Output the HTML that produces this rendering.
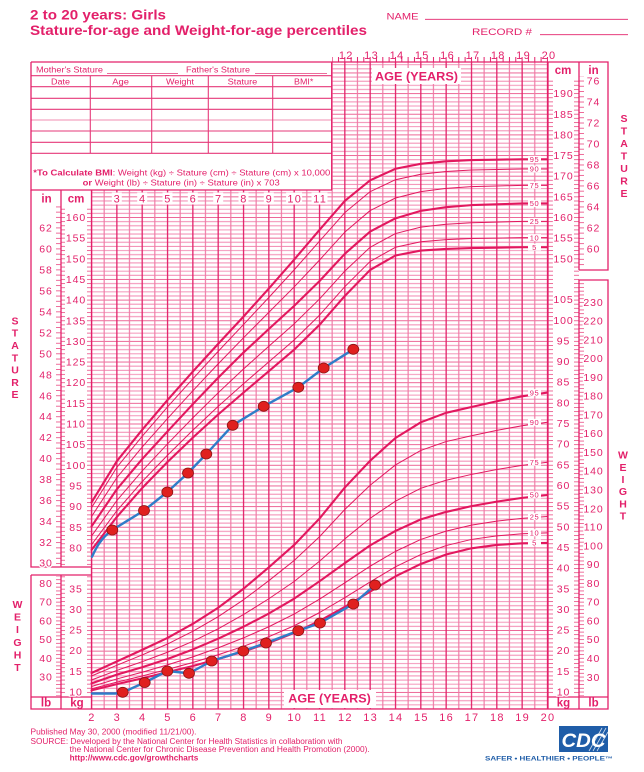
<!DOCTYPE html>
<html><head><meta charset="utf-8"><style>
html,body{margin:0;padding:0;background:#fff;}
svg{display:block;font-family:"Liberation Sans",Arial,sans-serif;}
.t{fill:#e3206a;}
.ax{fill:#e3206a;font-size:10.5px;letter-spacing:0.9px;text-anchor:middle;stroke:#fff;stroke-width:2.6px;paint-order:stroke;}
.ag{fill:#e3206a;font-size:11px;letter-spacing:1.3px;text-anchor:middle;}
.pl{fill:#e3206a;font-size:7.5px;letter-spacing:0.6px;text-anchor:middle;}
.vl{fill:#e3206a;font-size:10.5px;font-weight:bold;text-anchor:middle;}
</style></head><body>
<svg width="644" height="772" viewBox="0 0 644 772" xmlns="http://www.w3.org/2000/svg">
<defs>
<pattern id="grid" patternUnits="userSpaceOnUse" x="90.9" y="10.5" width="25.33" height="20.65">
  <rect width="25.33" height="20.65" fill="#fff"/>
  <g stroke="#f393b8" stroke-width="1.05">
   <line x1="0" y1="4.63" x2="25.33" y2="4.63"/>
   <line x1="0" y1="8.76" x2="25.33" y2="8.76"/>
   <line x1="0" y1="12.89" x2="25.33" y2="12.89"/>
   <line x1="0" y1="17.02" x2="25.33" y2="17.02"/>
  </g>
  <line x1="0" y1="0.5" x2="25.33" y2="0.5" stroke="#ec6696" stroke-width="1.05"/>
  <line x1="13.27" y1="0" x2="13.27" y2="20.65" stroke="#ef78a4" stroke-width="1.15"/>
  <line x1="0.6" y1="0" x2="0.6" y2="20.65" stroke="#e21f68" stroke-width="1.35"/>
</pattern>
<pattern id="tk1" patternUnits="userSpaceOnUse" x="0" y="2.24" width="644" height="4.13">
  <g stroke="#ec5d90" stroke-width="0.9">
  <line x1="61" y1="0.5" x2="65" y2="0.5"/><line x1="87" y1="0.5" x2="91.5" y2="0.5"/>
  <line x1="548" y1="0.5" x2="553" y2="0.5"/><line x1="574" y1="0.5" x2="579" y2="0.5"/>
  </g>
</pattern>
<pattern id="tin" patternUnits="userSpaceOnUse" x="0" y="1.865" width="644" height="5.245">
  <g stroke="#ec5d90" stroke-width="0.9">
  <line x1="56" y1="0.5" x2="61" y2="0.5"/><line x1="579" y1="0.5" x2="584" y2="0.5"/>
  </g>
</pattern>
<pattern id="tlb" patternUnits="userSpaceOnUse" x="0" y="2.21" width="644" height="3.7466">
  <g stroke="#ec5d90" stroke-width="0.9">
  <line x1="56" y1="0.5" x2="61" y2="0.5"/><line x1="579" y1="0.5" x2="584" y2="0.5"/>
  </g>
</pattern>
<pattern id="ttop" patternUnits="userSpaceOnUse" x="91" y="0" width="6.3325" height="772">
  <line x1="0.5" y1="57" x2="0.5" y2="62" stroke="#e3206a" stroke-width="1"/>
</pattern>
</defs>

<!-- Title -->
<text x="30" y="19.5" class="t" font-size="14" font-weight="bold" textLength="136" lengthAdjust="spacingAndGlyphs">2 to 20 years: Girls</text>
<text x="30" y="35" class="t" font-size="14" font-weight="bold" textLength="337" lengthAdjust="spacingAndGlyphs">Stature-for-age and Weight-for-age percentiles</text>
<text x="386.5" y="19.5" class="t" font-size="9.5" textLength="32" lengthAdjust="spacingAndGlyphs">NAME</text>
<line x1="425" y1="19.3" x2="628" y2="19.3" stroke="#e3206a" stroke-width="0.9"/>
<text x="472" y="35" class="t" font-size="9.5" textLength="60" lengthAdjust="spacingAndGlyphs">RECORD #</text>
<line x1="540" y1="34.7" x2="628" y2="34.7" stroke="#e3206a" stroke-width="0.9"/>

<!-- grids -->
<rect x="91.5" y="190" width="456.5" height="519" fill="url(#grid)"/>
<rect x="332" y="62" width="216" height="128" fill="url(#grid)"/>
<rect x="332" y="56" width="216" height="6" fill="url(#ttop)"/>

<!-- axis tick fills -->
<rect x="61" y="206" width="30.5" height="360" fill="url(#tk1)"/>
<rect x="61" y="576" width="30.5" height="120" fill="url(#tk1)"/>
<rect x="548" y="80" width="31" height="616" fill="url(#tk1)"/>
<rect x="31" y="206" width="30" height="360" fill="url(#tin)"/>
<rect x="579" y="76" width="29" height="193" fill="url(#tin)"/>
<rect x="31" y="576" width="30" height="120" fill="url(#tlb)"/>
<rect x="579" y="281" width="29" height="415" fill="url(#tlb)"/>

<!-- Table -->
<g stroke="#e63a7a" stroke-width="1.1">
<line x1="31" y1="75.7" x2="331.7" y2="75.7"/>
<line x1="31" y1="86.7" x2="331.7" y2="86.7"/>
<line x1="31" y1="98.3" x2="331.7" y2="98.3"/>
<line x1="31" y1="109.3" x2="331.7" y2="109.3"/>
<line x1="31" y1="120" x2="331.7" y2="120" stroke="#f08db2"/>
<line x1="31" y1="131" x2="331.7" y2="131"/>
<line x1="31" y1="142.3" x2="331.7" y2="142.3"/>
<line x1="31" y1="153.3" x2="331.7" y2="153.3"/>
<line x1="90.3" y1="75.7" x2="90.3" y2="153.3"/>
<line x1="151.7" y1="75.7" x2="151.7" y2="153.3"/>
<line x1="208.3" y1="75.7" x2="208.3" y2="153.3"/>
<line x1="272.7" y1="75.7" x2="272.7" y2="153.3"/>
<line x1="107" y1="73.5" x2="178" y2="73.5" stroke-width="0.8"/>
<line x1="255" y1="73.5" x2="327" y2="73.5" stroke-width="0.8"/>
</g>
<text x="36" y="72.5" class="t" font-size="8" textLength="67" lengthAdjust="spacingAndGlyphs">Mother's Stature</text>
<text x="186" y="72.5" class="t" font-size="8" textLength="64" lengthAdjust="spacingAndGlyphs">Father's Stature</text>
<text x="51" y="84.5" class="t" font-size="8" textLength="19" lengthAdjust="spacingAndGlyphs">Date</text>
<text x="112.3" y="84.5" class="t" font-size="8" textLength="16.7" lengthAdjust="spacingAndGlyphs">Age</text>
<text x="166" y="84.5" class="t" font-size="8" textLength="28" lengthAdjust="spacingAndGlyphs">Weight</text>
<text x="227.7" y="84.5" class="t" font-size="8" textLength="29.6" lengthAdjust="spacingAndGlyphs">Stature</text>
<text x="294" y="84.5" class="t" font-size="8" textLength="19.3" lengthAdjust="spacingAndGlyphs">BMI*</text>
<text x="33.3" y="175.3" class="t" font-size="8.3" textLength="297" lengthAdjust="spacingAndGlyphs"><tspan font-weight="bold">*To Calculate BMI</tspan>: Weight (kg) ÷ Stature (cm) ÷ Stature (cm) x 10,000</text>
<text x="82.7" y="185.3" class="t" font-size="8.3" textLength="197" lengthAdjust="spacingAndGlyphs"><tspan font-weight="bold">or</tspan> Weight (lb) ÷ Stature (in) ÷ Stature (in) x 703</text>

<!-- Borders -->
<g stroke="#e3206a" stroke-width="1.3" fill="none">
<path d="M31,62 H608 V270 H579 M579,62 V270"/>
<path d="M31,62 V190 H332 M331.7,62 V190"/>
<path d="M31,190 V567 H91.5 M61,190 V567"/>
<path d="M31,575 V709 H608 V280 H579 V709 M31,575 H91.5 M61,575 V709"/>
<path d="M91.5,190 V709 M548,62 V709"/>
<path d="M31,697 H91.5 M548,697 H608"/>
</g>

<!-- Age label boxes top-left -->
<g fill="#fff">
<rect x="111.8" y="192.5" width="10" height="12"/>
<rect x="137.2" y="192.5" width="10" height="12"/>
<rect x="162.5" y="192.5" width="10" height="12"/>
<rect x="187.8" y="192.5" width="10" height="12"/>
<rect x="213.2" y="192.5" width="10" height="12"/>
<rect x="238.5" y="192.5" width="10" height="12"/>
<rect x="263.8" y="192.5" width="10" height="12"/>
<rect x="286.1" y="192.5" width="16" height="12"/>
<rect x="311.5" y="192.5" width="16" height="12"/>
<rect x="372" y="68" width="89" height="16"/>
<rect x="284" y="690" width="92" height="18"/>
</g>
<g class="ag">
<text x="117.3" y="202.5">3</text><text x="142.7" y="202.5">4</text><text x="168" y="202.5">5</text>
<text x="193.3" y="202.5">6</text><text x="218.7" y="202.5">7</text><text x="244" y="202.5">8</text>
<text x="269.3" y="202.5">9</text><text x="294.8" y="202.5">10</text><text x="320.2" y="202.5">11</text>
</g>
<text x="46.5" y="202.5" class="t" font-size="11.5" font-weight="bold" text-anchor="middle">in</text>
<text x="76" y="202.5" class="t" font-size="11.5" font-weight="bold" text-anchor="middle">cm</text>
<text x="563" y="74" class="t" font-size="11.5" font-weight="bold" text-anchor="middle">cm</text>
<text x="593.5" y="74" class="t" font-size="11.5" font-weight="bold" text-anchor="middle">in</text>
<text x="46" y="706.5" class="t" font-size="11.5" font-weight="bold" text-anchor="middle">lb</text>
<text x="77" y="706.5" class="t" font-size="11.5" font-weight="bold" text-anchor="middle">kg</text>
<text x="563.5" y="706.5" class="t" font-size="11.5" font-weight="bold" text-anchor="middle">kg</text>
<text x="593.5" y="706.5" class="t" font-size="11.5" font-weight="bold" text-anchor="middle">lb</text>
<text x="375" y="80.5" class="t" font-size="12" font-weight="bold" textLength="83" lengthAdjust="spacingAndGlyphs">AGE (YEARS)</text>
<text x="288.3" y="702.5" class="t" font-size="12" font-weight="bold" textLength="82.5" lengthAdjust="spacingAndGlyphs">AGE (YEARS)</text>

<!-- Top age labels -->
<g class="ag">
<text x="346.3" y="59">12</text><text x="371.6" y="59">13</text><text x="397" y="59">14</text>
<text x="422.3" y="59">15</text><text x="447.6" y="59">16</text><text x="473" y="59">17</text>
<text x="498.3" y="59">18</text><text x="523.6" y="59">19</text><text x="549" y="59">20</text>
</g>
<!-- Bottom age labels -->
<g class="ag">
<text x="92" y="721">2</text><text x="117.3" y="721">3</text><text x="142.7" y="721">4</text>
<text x="168" y="721">5</text><text x="193.3" y="721">6</text><text x="218.7" y="721">7</text>
<text x="244" y="721">8</text><text x="269.3" y="721">9</text><text x="294.8" y="721">10</text>
<text x="320.1" y="721">11</text><text x="345.4" y="721">12</text><text x="370.7" y="721">13</text>
<text x="396" y="721">14</text><text x="421.4" y="721">15</text><text x="446.7" y="721">16</text>
<text x="472" y="721">17</text><text x="497.4" y="721">18</text><text x="522.7" y="721">19</text>
<text x="548" y="721">20</text>
</g>

<!-- Axis labels left -->
<g class="ax">
<text x="46" y="231.4">62</text><text x="46" y="252.4">60</text><text x="46" y="273.4">58</text>
<text x="46" y="294.4">56</text><text x="46" y="315.3">54</text><text x="46" y="336.3">52</text>
<text x="46" y="357.3">50</text><text x="46" y="378.3">48</text><text x="46" y="399.3">46</text>
<text x="46" y="420.2">44</text><text x="46" y="441.2">42</text><text x="46" y="462.2">40</text>
<text x="46" y="483.2">38</text><text x="46" y="504.2">36</text><text x="46" y="525.1">34</text>
<text x="46" y="546.1">32</text><text x="46" y="566.5">30</text>
<text x="76" y="221">160</text><text x="76" y="241.7">155</text><text x="76" y="262.3">150</text>
<text x="76" y="283">145</text><text x="76" y="303.6">140</text><text x="76" y="324.3">135</text>
<text x="76" y="344.9">130</text><text x="76" y="365.6">125</text><text x="76" y="386.2">120</text>
<text x="76" y="406.9">115</text><text x="76" y="427.5">110</text><text x="76" y="448.2">105</text>
<text x="76" y="468.8">100</text><text x="76" y="489.5">95</text><text x="76" y="510.1">90</text>
<text x="76" y="530.8">85</text><text x="76" y="551.4">80</text>
<text x="46" y="586.9">80</text><text x="46" y="605.7">70</text><text x="46" y="624.4">60</text>
<text x="46" y="643.1">50</text><text x="46" y="661.9">40</text><text x="46" y="680.6">30</text>
<text x="76" y="592.3">35</text><text x="76" y="612.9">30</text><text x="76" y="633.6">25</text>
<text x="76" y="654.2">20</text><text x="76" y="674.9">15</text><text x="76" y="695.3">10</text>
</g>
<!-- Axis labels right -->
<g class="ax">
<text x="563.5" y="97.1">190</text><text x="563.5" y="117.8">185</text><text x="563.5" y="138.5">180</text>
<text x="563.5" y="159.1">175</text><text x="563.5" y="179.7">170</text><text x="563.5" y="200.4">165</text>
<text x="563.5" y="221">160</text><text x="563.5" y="241.7">155</text><text x="563.5" y="262.3">150</text>
<text x="593.5" y="84.6">76</text><text x="593.5" y="105.5">74</text><text x="593.5" y="126.5">72</text>
<text x="593.5" y="147.5">70</text><text x="593.5" y="168.5">68</text><text x="593.5" y="189.5">66</text>
<text x="593.5" y="210.4">64</text><text x="593.5" y="231.4">62</text><text x="593.5" y="252.4">60</text>
<text x="563.5" y="303.2">105</text><text x="563.5" y="323.8">100</text><text x="563.5" y="344.4">95</text>
<text x="563.5" y="365.1">90</text><text x="563.5" y="385.7">85</text><text x="563.5" y="406.4">80</text>
<text x="563.5" y="427">75</text><text x="563.5" y="447.7">70</text><text x="563.5" y="468.4">65</text>
<text x="563.5" y="489">60</text><text x="563.5" y="509.7">55</text><text x="563.5" y="530.3">50</text>
<text x="563.5" y="551">45</text><text x="563.5" y="571.6">40</text><text x="563.5" y="592.3">35</text>
<text x="563.5" y="612.9">30</text><text x="563.5" y="633.6">25</text><text x="563.5" y="654.2">20</text>
<text x="563.5" y="674.9">15</text><text x="563.5" y="695.3">10</text>
<text x="593.5" y="305.9">230</text><text x="593.5" y="324.7">220</text><text x="593.5" y="343.4">210</text>
<text x="593.5" y="362.1">200</text><text x="593.5" y="380.9">190</text><text x="593.5" y="399.6">180</text>
<text x="593.5" y="418.3">170</text><text x="593.5" y="437.1">160</text><text x="593.5" y="455.8">150</text>
<text x="593.5" y="474.5">140</text><text x="593.5" y="493.3">130</text><text x="593.5" y="512.3">120</text>
<text x="593.5" y="530.7">110</text><text x="593.5" y="549.5">100</text><text x="593.5" y="568.2">90</text>
<text x="593.5" y="586.9">80</text><text x="593.5" y="605.7">70</text><text x="593.5" y="624.4">60</text>
<text x="593.5" y="643.1">50</text><text x="593.5" y="661.9">40</text><text x="593.5" y="680.8">30</text>
</g>

<!-- Vertical labels -->
<g class="vl">
<text x="15" y="324.4">S</text><text x="15" y="336.7">T</text><text x="15" y="349">A</text><text x="15" y="361.3">T</text><text x="15" y="373.6">U</text><text x="15" y="385.9">R</text><text x="15" y="398.2">E</text>
<text x="624" y="122">S</text><text x="624" y="134.5">T</text><text x="624" y="147">A</text><text x="624" y="159.5">T</text><text x="624" y="172">U</text><text x="624" y="184.5">R</text><text x="624" y="197">E</text>
<text x="17.5" y="608">W</text><text x="17.5" y="620.6">E</text><text x="17.5" y="633.2">I</text><text x="17.5" y="645.8">G</text><text x="17.5" y="658.4">H</text><text x="17.5" y="671">T</text>
<text x="623" y="458.7">W</text><text x="623" y="470.9">E</text><text x="623" y="483.1">I</text><text x="623" y="495.2">G</text><text x="623" y="507.3">H</text><text x="623" y="519.4">T</text>
</g>

<!-- Stature curves -->
<g fill="none" stroke="#e2185f" stroke-linejoin="round" stroke-linecap="round">
<polyline stroke-width="2.1" points="91.5,502.47 116.83,461.17 142.16,429.78 167.49,400.05 192.82,371.55 218.15,343.88 243.48,316.62 268.81,288.54 294.14,259.63 319.47,229.89 344.8,200.98 370.13,180.33 395.46,168.77 420.79,163.81 446.12,161.33 471.45,160.09 496.78,159.68 522.11,159.27 547.44,159.27"/>
<polyline stroke-width="1" points="91.5,507.76 116.83,467.36 142.16,436.27 167.49,406.98 192.82,378.78 218.15,351.35 243.48,324.55 268.81,297.5 294.14,269.87 319.47,241.21 344.8,212.67 370.13,191.65 395.46,179.71 420.79,174.22 446.12,171.45 471.45,170.05 496.78,169.55 522.11,169.01 547.44,169.01"/>
<polyline stroke-width="1" points="91.5,516.59 116.83,477.73 142.16,447.09 167.49,418.55 192.82,390.79 218.15,363.87 243.48,337.81 268.81,312.41 294.14,286.93 319.47,260.12 344.8,232.16 370.13,210.56 395.46,198.01 420.79,191.6 446.12,188.38 471.45,186.65 496.78,185.99 522.11,185.33 547.44,185.33"/>
<polyline stroke-width="2.1" points="91.5,526.42 116.83,489.25 142.16,459.1 167.49,431.43 192.82,404.18 218.15,377.74 243.48,352.55 268.81,329.01 294.14,305.88 319.47,281.1 344.8,253.84 370.13,231.54 395.46,218.33 420.79,210.89 446.12,207.17 471.45,205.11 496.78,204.28 522.11,203.46 547.44,203.46"/>
<polyline stroke-width="1" points="91.5,536.09 116.83,500.61 142.16,470.96 167.49,443.95 192.82,417.89 218.15,392.82 243.48,368.99 268.81,346.27 294.14,323.85 319.47,299.07 344.8,271.11 370.13,247.28 395.46,233.57 420.79,227.16 446.12,224.27 471.45,222.7 496.78,222.08 522.11,221.42 547.44,221.42"/>
<polyline stroke-width="1" points="91.5,544.76 116.83,510.81 142.16,481.61 167.49,455.22 192.82,430.24 218.15,406.36 243.48,383.77 268.81,361.84 294.14,340 319.47,315.22 344.8,286.68 370.13,261.44 395.46,247.28 420.79,241.78 446.12,239.68 471.45,238.56 496.78,238.07 522.11,237.57 547.44,237.57"/>
<polyline stroke-width="2.1" points="91.5,549.96 116.83,516.92 142.16,488.01 167.49,462 192.82,437.63 218.15,414.5 243.48,392.61 268.81,371.14 294.14,349.66 319.47,324.88 344.8,295.97 370.13,269.95 395.46,255.5 420.79,250.54 446.12,248.89 471.45,248.06 496.78,247.65 522.11,247.24 547.44,247.24"/>
</g>
<!-- Weight curves -->
<g fill="none" stroke="#e2185f" stroke-linejoin="round" stroke-linecap="round">
<polyline stroke-width="2.1" points="91.5,673 116.83,661.44 142.16,649.87 167.49,637.9 192.82,623.85 218.15,607.75 243.48,588.75 268.81,567.27 294.14,544.97 319.47,518.54 344.8,487.56 370.13,460.72 395.46,438 420.79,422.31 446.12,412.81 471.45,407.03 496.78,401.25 522.11,396.29 547.44,392.57"/>
<polyline stroke-width="1" points="91.5,675.98 116.83,665.28 142.16,654.91 167.49,644.01 192.82,631.29 218.15,616.71 243.48,599.78 268.81,580.7 294.14,560.54 319.47,536.75 344.8,509.5 370.13,485.25 395.46,464.93 420.79,450.44 446.12,441.56 471.45,435.77 496.78,430.36 522.11,425.74 547.44,422.27"/>
<polyline stroke-width="1" points="91.5,680.02 116.83,670.44 142.16,661.69 167.49,652.23 192.82,641.28 218.15,628.81 243.48,614.6 268.81,598.74 294.14,581.48 319.47,561.24 344.8,538.94 370.13,518.29 395.46,501.19 420.79,488.31 446.12,480.21 471.45,474.43 496.78,469.48 522.11,465.39 547.44,462.21"/>
<polyline stroke-width="2.1" points="91.5,683.33 116.83,674.65 142.16,667.22 167.49,658.96 192.82,649.46 218.15,638.72 243.48,626.75 268.81,613.53 294.14,598.66 319.47,581.32 344.8,563.14 370.13,545.38 395.46,530.93 420.79,519.37 446.12,511.93 471.45,506.15 496.78,501.61 522.11,497.89 547.44,495"/>
<polyline stroke-width="1" points="91.5,686.51 116.83,678.95 142.16,672.26 167.49,664.91 192.82,656.89 218.15,647.85 243.48,637.9 268.81,626.75 294.14,614.11 319.47,599.16 344.8,582.84 370.13,566.2 395.46,551.37 420.79,539.44 446.12,531.1 471.45,525.11 496.78,521.14 522.11,518.33 547.44,516.56"/>
<polyline stroke-width="1" points="91.5,688.86 116.83,682.17 142.16,676.02 167.49,669.41 192.82,662.51 218.15,654.71 243.48,646.32 268.81,636.7 294.14,625.75 319.47,612.62 344.8,597.71 370.13,581.94 395.46,566.82 420.79,554.59 446.12,545.55 471.45,539.44 496.78,535.89 522.11,533.78 547.44,532.83"/>
<polyline stroke-width="2.1" points="91.5,690.35 116.83,684.15 142.16,678.37 167.49,672.18 192.82,665.98 218.15,658.96 243.48,651.53 268.81,642.85 294.14,632.94 319.47,620.96 344.8,606.92 370.13,591.64 395.46,576.36 420.79,563.97 446.12,554.47 471.45,548.28 496.78,544.97 522.11,543.32 547.44,542.91"/>
</g>

<!-- Percentile labels -->
<g fill="#fff">
<rect x="528" y="155.8" width="13" height="7"/><rect x="528" y="165.5" width="13" height="7"/>
<rect x="528" y="181.8" width="13" height="7"/><rect x="528" y="200" width="13" height="7"/>
<rect x="528" y="217.9" width="13" height="7"/><rect x="528" y="234.1" width="13" height="7"/>
<rect x="528" y="243.7" width="13" height="7"/>
<rect x="528" y="389.1" width="13" height="7"/><rect x="528" y="418.8" width="13" height="7"/>
<rect x="528" y="458.7" width="13" height="7"/><rect x="528" y="491.5" width="13" height="7"/>
<rect x="528" y="513.1" width="13" height="7"/><rect x="528" y="529.3" width="13" height="7"/>
<rect x="528" y="539.4" width="13" height="7"/>
</g>
<g class="pl">
<text x="534.5" y="162">95</text><text x="534.5" y="171.7">90</text><text x="534.5" y="188">75</text>
<text x="534.5" y="206.2">50</text><text x="534.5" y="224.1">25</text><text x="534.5" y="240.3">10</text>
<text x="534.5" y="249.9">5</text>
<text x="534.5" y="395.3">95</text><text x="534.5" y="425">90</text><text x="534.5" y="464.9">75</text>
<text x="534.5" y="497.7">50</text><text x="534.5" y="519.3">25</text><text x="534.5" y="535.5">10</text>
<text x="534.5" y="545.6">5</text>
</g>

<!-- Patient data -->
<g fill="none" stroke="#2f7dc8" stroke-width="2.4" stroke-linejoin="round" stroke-linecap="round">
<path d="M92,556.7 C96,548 101,538 112.3,530 L144,510.5 L167.3,492 L188,473 L206.3,454 L232.7,425.3 L263.7,406.3 L298.3,387.3 L323.7,368 L353.3,349.3"/>
<path d="M92,693.5 L115,693.5 Q119,693.3 122.7,692.3 L144.7,682.5 L167.3,671 L189,673.3 L211.7,661 L243.3,651 L266,643 L298.3,630.7 L320,623 L353.3,604 L375,585"/>
</g>
<g fill="#e0201f" stroke="#8c1515" stroke-width="0.8">
<ellipse cx="112.3" cy="530" rx="5.5" ry="5"/><ellipse cx="144" cy="510.5" rx="5.5" ry="5"/>
<ellipse cx="167.3" cy="492" rx="5.5" ry="5"/><ellipse cx="188" cy="473" rx="5.5" ry="5"/>
<ellipse cx="206.3" cy="454" rx="5.5" ry="5"/><ellipse cx="232.7" cy="425.3" rx="5.5" ry="5"/>
<ellipse cx="263.7" cy="406.3" rx="5.5" ry="5"/><ellipse cx="298.3" cy="387.3" rx="5.5" ry="5"/>
<ellipse cx="323.7" cy="368" rx="5.5" ry="5"/><ellipse cx="353.3" cy="349.3" rx="5.5" ry="5"/>
<ellipse cx="122.7" cy="692.3" rx="5.5" ry="5"/><ellipse cx="144.7" cy="682.5" rx="5.5" ry="5"/>
<ellipse cx="167.3" cy="671" rx="5.5" ry="5"/><ellipse cx="189" cy="673.3" rx="5.5" ry="5"/>
<ellipse cx="211.7" cy="661" rx="5.5" ry="5"/><ellipse cx="243.3" cy="651" rx="5.5" ry="5"/>
<ellipse cx="266" cy="643" rx="5.5" ry="5"/><ellipse cx="298.3" cy="630.7" rx="5.5" ry="5"/>
<ellipse cx="320" cy="623" rx="5.5" ry="5"/><ellipse cx="353.3" cy="604" rx="5.5" ry="5"/>
<ellipse cx="375" cy="585" rx="5.5" ry="5"/>
</g>

<!-- Footnotes -->
<text x="30.5" y="734.5" class="t" font-size="8" textLength="166" lengthAdjust="spacingAndGlyphs">Published May 30, 2000 (modified 11/21/00).</text>
<text x="30.5" y="743.8" class="t" font-size="8" textLength="312" lengthAdjust="spacingAndGlyphs">SOURCE: Developed by the National Center for Health Statistics in collaboration with</text>
<text x="69.7" y="752.1" class="t" font-size="8" textLength="300" lengthAdjust="spacingAndGlyphs">the National Center for Chronic Disease Prevention and Health Promotion (2000).</text>
<text x="69.7" y="760.5" class="t" font-size="8" font-weight="bold" textLength="128.6" lengthAdjust="spacingAndGlyphs">http://www.cdc.gov/growthcharts</text>

<!-- CDC logo -->
<rect x="559" y="726" width="49" height="26" fill="#1f5da8"/>
<g stroke="#fff" stroke-width="0.8" opacity="0.8">
<line x1="593" y1="751" x2="606" y2="728"/><line x1="597" y1="751" x2="608" y2="732"/><line x1="589" y1="751" x2="602" y2="728"/>
</g>
<text x="583.5" y="747" fill="#fff" font-size="19" font-weight="bold" font-style="italic" text-anchor="middle" textLength="44" lengthAdjust="spacingAndGlyphs">CDC</text>
<text x="485" y="760.5" fill="#1f5da8" font-size="6" font-weight="bold" textLength="128" lengthAdjust="spacingAndGlyphs">SAFER • HEALTHIER • PEOPLE™</text>
</svg>
</body></html>
